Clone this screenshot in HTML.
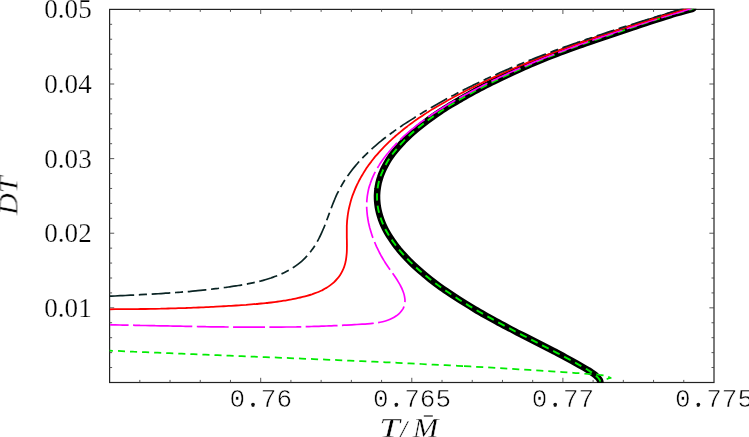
<!DOCTYPE html>
<html><head><meta charset="utf-8"><title>plot</title>
<style>
html,body{margin:0;padding:0;background:#fff;overflow:hidden}
svg{display:block}
.mono{font-family:"Liberation Mono",monospace;font-size:25.2px;fill:#000;stroke:#fff;stroke-width:0.55px;stroke-linejoin:round}
.ser{font-family:"Liberation Serif",serif;font-size:27px;fill:#000;stroke:#fff;stroke-width:0.25px}
.it{font-family:"Liberation Serif",serif;font-style:italic;font-size:27px;fill:#000;stroke:#fff;stroke-width:0.35px}
</style></head><body>
<svg width="749" height="437" viewBox="0 0 749 437">
<rect width="749" height="437" fill="#fff"/>
<defs><clipPath id="c"><rect x="109.0" y="8.8" width="605.0" height="374.2"/></clipPath></defs>
<g stroke="#222" fill="none">
<rect x="109.6" y="9.4" width="604.4" height="373.1" stroke-width="1.2"/>
<path d="M139.82 382.4v-2.5M139.82 9.4v2.5M170.04 382.4v-2.5M170.04 9.4v2.5M200.26 382.4v-2.5M200.26 9.4v2.5M230.48 382.4v-2.5M230.48 9.4v2.5M260.70 382.4v-4.6M260.70 9.4v4.6M290.92 382.4v-2.5M290.92 9.4v2.5M321.14 382.4v-2.5M321.14 9.4v2.5M351.36 382.4v-2.5M351.36 9.4v2.5M381.58 382.4v-2.5M381.58 9.4v2.5M411.80 382.4v-4.6M411.80 9.4v4.6M442.02 382.4v-2.5M442.02 9.4v2.5M472.24 382.4v-2.5M472.24 9.4v2.5M502.46 382.4v-2.5M502.46 9.4v2.5M532.68 382.4v-2.5M532.68 9.4v2.5M562.90 382.4v-4.6M562.90 9.4v4.6M593.12 382.4v-2.5M593.12 9.4v2.5M623.34 382.4v-2.5M623.34 9.4v2.5M653.56 382.4v-2.5M653.56 9.4v2.5M683.78 382.4v-2.5M683.78 9.4v2.5M109.6 367.53h2.5M714.0 367.53h-2.5M109.6 352.61h2.5M714.0 352.61h-2.5M109.6 337.68h2.5M714.0 337.68h-2.5M109.6 322.76h2.5M714.0 322.76h-2.5M109.6 307.84h4.6M714.0 307.84h-4.6M109.6 292.92h2.5M714.0 292.92h-2.5M109.6 278.00h2.5M714.0 278.00h-2.5M109.6 263.07h2.5M714.0 263.07h-2.5M109.6 248.15h2.5M714.0 248.15h-2.5M109.6 233.23h4.6M714.0 233.23h-4.6M109.6 218.31h2.5M714.0 218.31h-2.5M109.6 203.39h2.5M714.0 203.39h-2.5M109.6 188.46h2.5M714.0 188.46h-2.5M109.6 173.54h2.5M714.0 173.54h-2.5M109.6 158.62h4.6M714.0 158.62h-4.6M109.6 143.70h2.5M714.0 143.70h-2.5M109.6 128.78h2.5M714.0 128.78h-2.5M109.6 113.85h2.5M714.0 113.85h-2.5M109.6 98.93h2.5M714.0 98.93h-2.5M109.6 84.01h4.6M714.0 84.01h-4.6M109.6 69.09h2.5M714.0 69.09h-2.5M109.6 54.17h2.5M714.0 54.17h-2.5M109.6 39.24h2.5M714.0 39.24h-2.5M109.6 24.32h2.5M714.0 24.32h-2.5" stroke="#444" stroke-width="0.9"/>
</g>
<g clip-path="url(#c)" fill="none" stroke-linecap="butt" stroke-linejoin="round">
<path d="M692.4 8.9C692.2 9.0 694.7 8.2 691.0 9.3C687.2 10.4 676.7 13.3 670.0 15.3C663.2 17.3 656.9 19.3 650.7 21.3C644.5 23.3 638.7 25.3 632.7 27.3C626.8 29.3 621.0 31.3 615.0 33.3C609.1 35.3 603.0 37.3 597.1 39.3C591.2 41.3 585.2 43.3 579.6 45.3C573.9 47.3 568.4 49.3 563.1 51.3C557.8 53.3 552.8 55.3 547.8 57.3C542.9 59.3 538.1 61.3 533.4 63.3C528.7 65.3 524.2 67.3 519.7 69.3C515.2 71.3 510.8 73.3 506.6 75.3C502.3 77.3 498.1 79.3 494.1 81.3C490.0 83.3 486.1 85.3 482.2 87.3C478.3 89.3 474.6 91.3 470.9 93.3C467.3 95.3 463.7 97.3 460.3 99.3C456.8 101.3 453.5 103.3 450.2 105.3C447.0 107.3 443.8 109.3 440.8 111.3C437.8 113.3 434.9 115.3 432.1 117.3C429.2 119.3 426.5 121.3 423.9 123.3C421.3 125.3 418.8 127.3 416.5 129.3C414.1 131.3 411.8 133.3 409.6 135.3C407.5 137.3 405.4 139.3 403.5 141.3C401.5 143.3 399.7 145.3 398.0 147.3C396.3 149.3 394.6 151.3 393.1 153.3C391.6 155.3 390.2 157.3 388.9 159.3C387.6 161.3 386.5 163.3 385.4 165.3C384.3 167.3 383.3 169.3 382.5 171.3C381.6 173.3 380.8 175.3 380.2 177.3C379.5 179.3 379.0 181.3 378.5 183.3C378.1 185.3 377.7 187.3 377.5 189.3C377.2 191.3 377.1 193.3 377.0 195.3C377.0 197.3 377.0 199.3 377.2 201.3C377.3 203.3 377.6 205.3 377.9 207.3C378.2 209.3 378.7 211.3 379.2 213.3C379.7 215.3 380.4 217.3 381.1 219.3C381.8 221.3 382.6 223.3 383.5 225.3C384.4 227.3 385.4 229.3 386.5 231.3C387.6 233.3 388.8 235.3 390.1 237.3C391.4 239.3 392.7 241.3 394.2 243.3C395.6 245.3 397.2 247.3 398.8 249.3C400.5 251.3 402.2 253.3 404.0 255.3C405.8 257.3 407.7 259.3 409.8 261.3C411.8 263.3 413.8 265.3 416.0 267.3C418.2 269.3 420.5 271.3 422.9 273.3C425.2 275.3 427.7 277.3 430.2 279.3C432.8 281.3 435.4 283.3 438.1 285.3C440.9 287.3 443.7 289.3 446.6 291.3C449.5 293.3 452.5 295.3 455.6 297.3C458.6 299.3 461.8 301.3 465.1 303.3C468.3 305.3 471.6 307.3 475.0 309.3C478.4 311.3 481.9 313.3 485.4 315.3C489.0 317.3 492.6 319.3 496.3 321.3C499.9 323.3 503.7 325.3 507.5 327.3C511.2 329.3 515.1 331.3 518.9 333.3C522.8 335.3 526.7 337.3 530.6 339.3C534.5 341.3 538.4 343.3 542.3 345.3C546.2 347.3 550.1 349.3 554.0 351.3C557.8 353.3 561.7 355.3 565.4 357.3C569.2 359.3 572.9 361.3 576.4 363.3C580.0 365.3 584.8 368.2 586.8 369.3C588.7 370.4 587.1 369.5 587.9 370.0C588.7 370.5 590.5 371.6 591.7 372.4C592.9 373.2 594.2 374.1 595.2 375.0C596.2 375.9 597.2 376.7 598.0 377.6C598.8 378.5 599.4 379.3 599.8 380.2C600.2 381.1 600.4 382.0 600.5 383.0C600.6 384.0 600.7 385.5 600.7 386.0" stroke="#000" stroke-width="6.6" stroke-linecap="round"/>
<path d="M109.6 350.6C111.6 350.7 117.6 351.0 121.6 351.1C125.6 351.3 129.6 351.5 133.6 351.7C137.6 351.8 141.6 352.0 145.6 352.2C149.6 352.3 153.6 352.5 157.6 352.7C161.6 352.8 165.6 353.0 169.6 353.2C173.6 353.4 177.6 353.5 181.6 353.7C185.6 353.8 189.6 354.0 193.6 354.2C197.6 354.3 201.6 354.5 205.6 354.7C209.6 354.8 213.6 355.0 217.6 355.2C221.6 355.3 225.6 355.5 229.6 355.6C233.6 355.8 237.6 356.0 241.6 356.1C245.6 356.3 249.6 356.5 253.6 356.6C257.6 356.8 261.6 357.0 265.6 357.1C269.6 357.3 273.6 357.4 277.6 357.6C281.6 357.8 285.6 357.9 289.6 358.1C293.6 358.3 297.6 358.4 301.6 358.6C305.6 358.8 309.6 358.9 313.6 359.1C317.6 359.3 321.6 359.4 325.6 359.6C329.6 359.8 333.6 359.9 337.6 360.1C341.6 360.3 345.6 360.5 349.6 360.6C353.6 360.8 357.6 361.0 361.6 361.2C365.6 361.4 369.6 361.5 373.6 361.7C377.6 361.9 381.6 362.1 385.6 362.3C389.6 362.4 393.6 362.6 397.6 362.8C401.6 363.0 405.6 363.2 409.6 363.4C413.6 363.6 417.6 363.8 421.6 364.0C425.6 364.2 429.6 364.4 433.6 364.6C437.6 364.8 441.6 365.0 445.6 365.2C449.6 365.4 454.5 365.7 457.6 365.8C460.7 366.0 463.0 366.1 464.1 366.2" stroke="#00ec00" stroke-width="1.75" stroke-dasharray="7.1 4.977" stroke-dashoffset="3.73"/>
<path d="M600.6 382.2C600.9 381.9 601.6 381.1 602.5 380.6C603.4 380.1 604.8 379.6 606.2 379.2C607.6 378.8 610.0 378.2 610.8 378.0L610.8 378.0C610.4 377.8 609.2 377.2 608.3 376.8C607.4 376.4 606.5 376.2 605.5 375.9C604.5 375.6 603.4 375.4 602.0 375.2C600.6 375.0 598.1 374.6 597.0 374.5C595.9 374.3 597.5 374.5 595.5 374.4C593.4 374.2 588.1 373.8 584.5 373.6C580.8 373.3 577.1 373.1 573.5 372.8C569.8 372.6 566.1 372.3 562.5 372.1C558.8 371.8 555.1 371.6 551.5 371.3C547.8 371.1 544.1 370.9 540.5 370.6C536.8 370.4 533.1 370.2 529.5 369.9C525.8 369.7 522.1 369.5 518.5 369.3C514.8 369.0 511.1 368.8 507.4 368.6C503.8 368.4 500.1 368.2 496.4 368.0C492.8 367.7 489.1 367.5 485.4 367.3C481.8 367.1 478.1 366.9 474.4 366.7C470.8 366.5 465.3 366.2 463.4 366.1" stroke="#00ec00" stroke-width="1.75" stroke-linejoin="round" stroke-dasharray="0 7.0 7.1 4.95 7.1 4.95 7.1 4.95 7.1 4.95 7.1 4.95 7.1 4.95 7.1 4.95 7.1 4.95 7.1 4.95 7.1 4.95 7.1 4.95 7.1 4.95 7.1 4.95 7.1 4.95"/>
<path d="M600.5 383.0C600.4 382.5 600.2 381.1 599.8 380.2C599.4 379.3 598.8 378.5 598.0 377.6C597.2 376.7 596.2 375.9 595.2 375.0C594.2 374.1 592.9 373.2 591.7 372.4C590.5 371.6 588.7 370.5 587.9 370.0C587.1 369.5 588.7 370.4 586.8 369.3C584.8 368.2 580.0 365.3 576.4 363.3C572.9 361.3 569.2 359.3 565.4 357.3C561.7 355.3 557.8 353.3 554.0 351.3C550.1 349.3 546.2 347.3 542.3 345.3C538.4 343.3 534.5 341.3 530.6 339.3C526.7 337.3 522.8 335.3 518.9 333.3C515.1 331.3 511.2 329.3 507.5 327.3C503.7 325.3 499.9 323.3 496.3 321.3C492.6 319.3 489.0 317.3 485.4 315.3C481.9 313.3 478.4 311.3 475.0 309.3C471.6 307.3 468.3 305.3 465.1 303.3C461.8 301.3 458.6 299.3 455.6 297.3C452.5 295.3 449.5 293.3 446.6 291.3C443.7 289.3 440.9 287.3 438.1 285.3C435.4 283.3 432.8 281.3 430.2 279.3C427.7 277.3 425.2 275.3 422.9 273.3C420.5 271.3 418.2 269.3 416.0 267.3C413.8 265.3 411.8 263.3 409.8 261.3C407.7 259.3 405.8 257.3 404.0 255.3C402.2 253.3 400.5 251.3 398.8 249.3C397.2 247.3 395.6 245.3 394.2 243.3C392.7 241.3 391.4 239.3 390.1 237.3C388.8 235.3 387.6 233.3 386.5 231.3C385.4 229.3 384.4 227.3 383.5 225.3C382.6 223.3 381.8 221.3 381.1 219.3C380.4 217.3 379.7 215.3 379.2 213.3C378.7 211.3 378.2 209.3 377.9 207.3C377.6 205.3 377.3 203.3 377.2 201.3C377.0 199.3 377.0 197.3 377.0 195.3C377.1 193.3 377.2 191.3 377.5 189.3C377.7 187.3 378.1 185.3 378.5 183.3C379.0 181.3 379.5 179.3 380.2 177.3C380.8 175.3 381.6 173.3 382.5 171.3C383.3 169.3 384.3 167.3 385.4 165.3C386.5 163.3 387.6 161.3 388.9 159.3C390.2 157.3 391.6 155.3 393.1 153.3C394.6 151.3 396.3 149.3 398.0 147.3C399.7 145.3 401.5 143.3 403.5 141.3C405.4 139.3 407.5 137.3 409.6 135.3C411.8 133.3 414.1 131.3 416.5 129.3C418.8 127.3 421.3 125.3 423.9 123.3C426.5 121.3 429.2 119.3 432.1 117.3C434.9 115.3 437.8 113.3 440.8 111.3C443.8 109.3 447.0 107.3 450.2 105.3C453.5 103.3 456.8 101.3 460.3 99.3C463.7 97.3 467.3 95.3 470.9 93.3C474.6 91.3 478.3 89.3 482.2 87.3C486.1 85.3 490.0 83.3 494.1 81.3C498.1 79.3 502.3 77.3 506.6 75.3C510.8 73.3 515.2 71.3 519.7 69.3C524.2 67.3 528.7 65.3 533.4 63.3C538.1 61.3 542.9 59.3 547.8 57.3C552.8 55.3 557.8 53.3 563.1 51.3C568.4 49.3 573.9 47.3 579.6 45.3C585.2 43.3 591.2 41.3 597.1 39.3C603.0 37.3 609.1 35.3 615.0 33.3C621.0 31.3 626.8 29.3 632.7 27.3C638.7 25.3 644.5 23.3 650.7 21.3C656.9 19.3 663.2 17.3 670.0 15.3C676.7 13.3 687.2 10.4 691.0 9.3C694.7 8.2 692.2 9.0 692.4 8.9" stroke="#00ec00" stroke-width="1.9" stroke-dasharray="7.35 5.024" stroke-dashoffset="10.8"/>
<path d="M110.1 324.9C110.9 324.9 113.4 324.9 115.1 324.9C116.7 325.0 118.4 325.0 120.1 325.0C121.7 325.0 123.4 325.1 125.1 325.1C126.8 325.1 128.4 325.2 130.1 325.2C131.8 325.2 133.4 325.2 135.1 325.3C136.8 325.3 138.5 325.3 140.1 325.4C141.8 325.4 143.5 325.4 145.2 325.5C146.8 325.5 148.5 325.5 150.2 325.6C151.9 325.6 153.6 325.6 155.2 325.7C156.9 325.7 158.6 325.7 160.3 325.8C162.0 325.8 163.7 325.8 165.3 325.9C167.0 325.9 168.7 326.0 170.4 326.0C172.1 326.0 173.8 326.1 175.4 326.1C177.1 326.1 178.8 326.2 180.5 326.2C182.2 326.2 183.9 326.3 185.6 326.3C187.2 326.3 188.9 326.4 190.6 326.4C192.3 326.4 194.0 326.5 195.7 326.5C197.4 326.5 199.1 326.6 200.7 326.6C202.4 326.6 204.1 326.6 205.8 326.7C207.5 326.7 209.2 326.7 210.9 326.8C212.6 326.8 214.2 326.8 215.9 326.8C217.6 326.9 219.3 326.9 221.0 326.9C222.7 326.9 224.4 327.0 226.0 327.0C227.7 327.0 229.4 327.0 231.1 327.0C232.8 327.1 234.5 327.1 236.2 327.1C237.8 327.1 239.5 327.1 241.2 327.1C242.9 327.1 244.6 327.2 246.3 327.2C247.9 327.2 249.6 327.2 251.3 327.2C253.0 327.2 254.7 327.2 256.4 327.2C258.0 327.2 259.7 327.2 261.4 327.2C263.1 327.2 264.8 327.2 266.4 327.2C268.1 327.2 269.8 327.2 271.5 327.2C273.1 327.2 274.8 327.2 276.5 327.1C278.2 327.1 279.8 327.1 281.5 327.1C283.2 327.1 284.8 327.1 286.5 327.0C288.2 327.0 289.9 327.0 291.5 327.0C293.2 326.9 294.9 326.9 296.5 326.9C298.2 326.8 299.8 326.8 301.5 326.8C303.2 326.7 304.8 326.7 306.5 326.7C308.2 326.6 309.8 326.6 311.5 326.5C313.1 326.5 314.8 326.4 316.5 326.4C318.1 326.3 319.8 326.3 321.4 326.2C323.1 326.1 324.8 326.1 326.4 326.0C328.1 325.9 329.8 325.9 331.5 325.8C333.1 325.7 334.8 325.7 336.5 325.6C338.2 325.5 339.9 325.4 341.5 325.3C343.2 325.2 344.9 325.2 346.6 325.1C348.3 325.0 350.0 324.9 351.7 324.8C353.4 324.7 355.2 324.6 356.9 324.5C358.6 324.4 360.3 324.3 362.1 324.2C363.8 324.1 365.5 324.0 367.3 323.8C369.0 323.7 370.8 323.6 372.5 323.4C374.2 323.2 376.0 323.0 377.7 322.7C379.4 322.5 381.1 322.1 382.7 321.7C384.4 321.3 386.0 320.9 387.6 320.3C389.2 319.7 390.7 319.1 392.2 318.3C393.7 317.6 395.1 316.7 396.4 315.8C397.7 314.8 399.0 313.8 400.0 312.7C401.1 311.5 402.0 310.3 402.8 309.1C403.5 307.8 404.1 306.4 404.5 305.0C404.8 303.5 405.0 302.0 405.0 300.5C405.0 299.0 404.7 297.4 404.4 295.8C404.1 294.3 403.6 292.7 403.0 291.2C402.4 289.6 401.7 288.0 400.9 286.5C400.1 284.9 399.2 283.4 398.3 281.9C397.4 280.3 396.4 278.8 395.4 277.3C394.4 275.8 393.3 274.3 392.3 272.9C391.2 271.4 390.2 269.9 389.2 268.5C388.2 267.1 387.2 265.7 386.3 264.3C385.4 262.9 384.6 261.5 383.7 260.1C382.9 258.8 382.1 257.4 381.3 256.0C380.5 254.5 379.7 253.1 379.0 251.6C378.2 250.2 377.5 248.7 376.8 247.2C376.1 245.6 375.4 244.1 374.8 242.5C374.1 241.0 373.5 239.4 372.9 237.8C372.3 236.2 371.8 234.6 371.3 232.9C370.8 231.3 370.3 229.7 369.8 228.0C369.4 226.4 369.0 224.7 368.6 223.0C368.3 221.4 368.0 219.7 367.7 218.0C367.5 216.4 367.2 214.7 367.1 213.0C366.9 211.3 366.8 209.6 366.7 208.0C366.7 206.3 366.7 204.6 366.7 203.0C366.8 201.3 366.9 199.7 367.1 198.0C367.2 196.4 367.5 194.7 367.8 193.1C368.1 191.5 368.4 189.9 368.8 188.3C369.2 186.7 369.7 185.1 370.3 183.6C370.8 182.0 371.4 180.5 372.0 178.9C372.6 177.4 373.3 175.9 374.0 174.4C374.8 172.9 375.5 171.4 376.3 169.9C377.2 168.4 378.0 167.0 378.9 165.6C379.8 164.1 380.7 162.7 381.7 161.3C382.6 159.9 383.6 158.5 384.6 157.2C385.7 155.8 386.7 154.5 387.8 153.2C388.9 151.8 390.0 150.5 391.1 149.3C392.2 148.0 393.3 146.7 394.5 145.5C395.6 144.3 396.8 143.0 398.0 141.8C399.2 140.6 400.4 139.5 401.6 138.3C402.8 137.1 404.0 136.0 405.3 134.9C406.5 133.8 407.8 132.7 409.1 131.6C410.4 130.5 411.7 129.4 413.0 128.4C414.3 127.3 415.6 126.3 416.9 125.2C418.2 124.2 419.6 123.2 420.9 122.2C422.3 121.2 423.6 120.2 425.0 119.3C426.4 118.3 427.8 117.3 429.2 116.4C430.6 115.5 431.9 114.5 433.4 113.6C434.8 112.7 436.2 111.8 437.6 110.9C439.0 110.0 440.4 109.1 441.9 108.2C443.3 107.3 444.8 106.5 446.2 105.6C447.6 104.7 449.1 103.9 450.5 103.0C452.0 102.2 453.5 101.3 454.9 100.5C456.4 99.7 457.8 98.8 459.3 98.0C460.8 97.2 462.2 96.4 463.7 95.6C465.2 94.8 466.7 94.0 468.1 93.2C469.6 92.4 471.1 91.6 472.6 90.8C474.1 90.0 475.6 89.2 477.1 88.5C478.6 87.7 480.0 86.9 481.5 86.2C483.0 85.4 484.5 84.7 486.0 83.9C487.5 83.2 489.1 82.4 490.6 81.7C492.1 80.9 493.6 80.2 495.1 79.5C496.6 78.8 498.1 78.0 499.6 77.3C501.2 76.6 502.7 75.9 504.2 75.2C505.7 74.5 507.3 73.8 508.8 73.1C510.3 72.4 511.8 71.7 513.4 71.0C514.9 70.4 516.4 69.7 518.0 69.0C519.5 68.3 521.1 67.7 522.6 67.0C524.1 66.3 525.7 65.7 527.2 65.0C528.8 64.4 530.3 63.7 531.9 63.1C533.4 62.4 535.0 61.8 536.5 61.1C538.1 60.5 539.6 59.9 541.2 59.2C542.8 58.6 544.3 58.0 545.9 57.4C547.4 56.7 549.0 56.1 550.6 55.5C552.1 54.9 553.7 54.3 555.3 53.7C556.8 53.1 558.4 52.5 560.0 51.9C561.6 51.3 563.1 50.7 564.7 50.1C566.3 49.5 567.9 48.9 569.4 48.3C571.0 47.8 572.6 47.2 574.2 46.6C575.7 46.0 577.3 45.5 578.9 44.9C580.5 44.3 582.1 43.8 583.7 43.2C585.3 42.6 586.8 42.1 588.4 41.5C590.0 41.0 591.6 40.4 593.2 39.9C594.8 39.3 596.4 38.8 598.0 38.2C599.6 37.7 601.1 37.1 602.7 36.6C604.3 36.0 605.9 35.5 607.5 35.0C609.1 34.4 610.7 33.9 612.3 33.4C613.9 32.8 615.5 32.3 617.1 31.8C618.7 31.3 620.3 30.7 621.9 30.2C623.5 29.7 625.1 29.2 626.7 28.6C628.3 28.1 629.9 27.6 631.5 27.1C633.1 26.6 634.7 26.1 636.3 25.6C637.9 25.0 639.5 24.5 641.1 24.0C642.7 23.5 644.3 23.0 645.9 22.5C647.5 22.0 649.1 21.5 650.7 21.0C652.3 20.5 653.9 20.0 655.5 19.5C657.1 19.0 658.8 18.5 660.4 18.0C662.0 17.5 663.6 17.0 665.2 16.5C666.8 16.0 668.4 15.5 670.0 15.0C671.6 14.5 673.2 14.1 674.8 13.6C676.4 13.1 678.0 12.6 679.6 12.1C681.2 11.6 682.8 11.1 684.4 10.6C686.0 10.1 687.6 9.6 689.2 9.1C690.8 8.7 692.4 8.2 694.0 7.7C695.6 7.2 698.0 6.5 698.8 6.2" stroke="#ff00ff" stroke-width="1.7" stroke-dasharray="18.5 4.5 59.2 4.5 31.9 4.4 31.9 4.4 31.9 4.4 31.9 4.4 31.9 4.4 31.9 4.4 31.9 4.4 31.9 4.4 31.9 4.4 31.9 4.4 31.9 4.4 31.9 4.4 31.9 4.4 31.9 4.4 31.9 4.4 31.9 4.4 31.9 4.4 31.9 4.4 31.9 4.4 31.9 4.4 31.9 4.4 31.9 4.4 31.9 4.4 31.9 4.4 31.9 4.4 31.9 4.4 31.9 4.4 31.9 4.4 31.9 4.4 31.9 4.4 31.9 4.4 31.9 4.4 31.9 4.4 31.9 4.4 31.9 4.4 31.9 4.4 31.9 4.4 31.9 4.4 31.9 4.4 31.9 4.4"/>
<path d="M110.0 309.3C110.8 309.3 113.3 309.3 115.0 309.2C116.7 309.2 118.4 309.2 120.1 309.2C121.8 309.2 123.5 309.2 125.2 309.2C126.9 309.2 128.5 309.2 130.2 309.1C131.9 309.1 133.6 309.1 135.3 309.1C137.0 309.1 138.7 309.0 140.4 309.0C142.0 309.0 143.7 309.0 145.4 309.0C147.1 308.9 148.8 308.9 150.5 308.9C152.2 308.8 153.9 308.8 155.5 308.8C157.2 308.7 158.9 308.7 160.6 308.7C162.3 308.6 164.0 308.6 165.6 308.6C167.3 308.5 169.0 308.5 170.7 308.4C172.4 308.4 174.1 308.3 175.7 308.3C177.4 308.2 179.1 308.2 180.8 308.1C182.5 308.1 184.2 308.0 185.8 308.0C187.5 307.9 189.2 307.9 190.9 307.8C192.6 307.7 194.2 307.7 195.9 307.6C197.6 307.5 199.3 307.5 201.0 307.4C202.6 307.3 204.3 307.3 206.0 307.2C207.7 307.1 209.3 307.0 211.0 306.9C212.7 306.9 214.4 306.8 216.0 306.7C217.7 306.6 219.4 306.5 221.1 306.4C222.8 306.3 224.4 306.2 226.1 306.1C227.8 306.0 229.4 305.9 231.1 305.8C232.8 305.7 234.5 305.6 236.1 305.5C237.8 305.4 239.5 305.3 241.2 305.1C242.8 305.0 244.5 304.9 246.2 304.8C247.8 304.6 249.5 304.5 251.2 304.4C252.8 304.3 254.5 304.1 256.2 304.0C257.8 303.8 259.5 303.7 261.2 303.5C262.9 303.4 264.5 303.2 266.2 303.0C267.9 302.8 269.5 302.7 271.2 302.5C272.9 302.3 274.6 302.1 276.3 301.8C277.9 301.6 279.6 301.4 281.3 301.1C283.0 300.8 284.7 300.6 286.4 300.3C288.1 300.0 289.8 299.7 291.5 299.4C293.2 299.0 294.9 298.7 296.6 298.3C298.3 297.9 300.0 297.6 301.7 297.1C303.4 296.7 305.2 296.3 306.9 295.8C308.6 295.3 310.3 294.8 311.9 294.3C313.6 293.7 315.2 293.1 316.9 292.5C318.5 291.9 320.0 291.2 321.6 290.5C323.1 289.7 324.6 289.0 326.0 288.1C327.5 287.3 328.8 286.4 330.1 285.4C331.4 284.4 332.7 283.4 333.9 282.3C335.0 281.3 336.1 280.1 337.1 278.9C338.2 277.7 339.1 276.5 340.0 275.2C340.9 273.9 341.6 272.5 342.3 271.1C343.0 269.7 343.7 268.2 344.2 266.7C344.7 265.3 345.2 263.7 345.5 262.1C345.9 260.6 346.1 259.0 346.3 257.3C346.5 255.7 346.7 254.0 346.8 252.3C346.9 250.6 346.9 248.9 346.9 247.2C347.0 245.4 346.9 243.7 346.9 241.9C346.9 240.2 346.8 238.4 346.8 236.6C346.8 234.8 346.8 233.1 346.8 231.3C346.8 229.5 346.8 227.8 346.8 226.0C346.9 224.3 347.0 222.6 347.1 220.9C347.3 219.1 347.5 217.4 347.7 215.7C347.9 214.1 348.2 212.4 348.5 210.7C348.8 209.1 349.2 207.4 349.6 205.8C350.0 204.2 350.4 202.6 350.8 201.0C351.3 199.4 351.8 197.8 352.3 196.2C352.9 194.7 353.5 193.1 354.1 191.6C354.7 190.1 355.3 188.5 356.0 187.0C356.7 185.5 357.4 184.0 358.1 182.6C358.8 181.1 359.6 179.6 360.4 178.2C361.2 176.7 362.0 175.3 362.9 173.9C363.7 172.5 364.6 171.1 365.5 169.7C366.4 168.3 367.4 166.9 368.3 165.6C369.3 164.2 370.3 162.9 371.3 161.6C372.3 160.2 373.4 158.9 374.4 157.6C375.5 156.3 376.6 155.1 377.7 153.8C378.8 152.5 379.9 151.3 381.0 150.1C382.2 148.8 383.3 147.6 384.5 146.4C385.7 145.2 386.9 144.0 388.1 142.8C389.3 141.7 390.5 140.5 391.8 139.4C393.0 138.2 394.3 137.1 395.5 136.0C396.8 134.9 398.1 133.8 399.4 132.7C400.7 131.6 402.0 130.6 403.3 129.5C404.6 128.4 405.9 127.4 407.3 126.4C408.6 125.4 410.0 124.4 411.3 123.4C412.7 122.4 414.1 121.4 415.4 120.4C416.8 119.4 418.2 118.5 419.6 117.5C421.0 116.6 422.4 115.7 423.8 114.7C425.2 113.8 426.6 112.9 428.1 112.0C429.5 111.1 430.9 110.2 432.4 109.3C433.8 108.5 435.3 107.6 436.7 106.7C438.2 105.9 439.6 105.0 441.1 104.2C442.6 103.3 444.0 102.5 445.5 101.7C447.0 100.8 448.5 100.0 449.9 99.2C451.4 98.4 452.9 97.6 454.4 96.8C455.9 96.0 457.4 95.2 458.9 94.4C460.4 93.6 461.9 92.9 463.4 92.1C464.9 91.3 466.4 90.5 467.9 89.8C469.4 89.0 470.9 88.3 472.4 87.5C473.9 86.8 475.4 86.0 476.9 85.3C478.4 84.5 480.0 83.8 481.5 83.1C483.0 82.3 484.5 81.6 486.0 80.9C487.6 80.2 489.1 79.5 490.6 78.8C492.1 78.0 493.7 77.3 495.2 76.6C496.7 75.9 498.3 75.2 499.8 74.6C501.3 73.9 502.9 73.2 504.4 72.5C505.9 71.8 507.5 71.1 509.0 70.5C510.6 69.8 512.1 69.1 513.7 68.5C515.2 67.8 516.8 67.1 518.3 66.5C519.9 65.8 521.4 65.2 523.0 64.5C524.5 63.9 526.1 63.3 527.6 62.6C529.2 62.0 530.7 61.3 532.3 60.7C533.9 60.1 535.4 59.5 537.0 58.8C538.6 58.2 540.1 57.6 541.7 57.0C543.2 56.4 544.8 55.8 546.4 55.2C548.0 54.6 549.5 54.0 551.1 53.4C552.7 52.8 554.2 52.2 555.8 51.6C557.4 51.0 559.0 50.4 560.5 49.8C562.1 49.2 563.7 48.6 565.3 48.1C566.9 47.5 568.4 46.9 570.0 46.3C571.6 45.8 573.2 45.2 574.8 44.6C576.4 44.1 578.0 43.5 579.5 42.9C581.1 42.4 582.7 41.8 584.3 41.3C585.9 40.7 587.5 40.1 589.1 39.6C590.7 39.1 592.3 38.5 593.9 38.0C595.5 37.4 597.0 36.9 598.6 36.3C600.2 35.8 601.8 35.3 603.4 34.7C605.0 34.2 606.6 33.7 608.2 33.1C609.8 32.6 611.4 32.1 613.0 31.5C614.6 31.0 616.2 30.5 617.8 30.0C619.4 29.5 621.0 28.9 622.6 28.4C624.2 27.9 625.8 27.4 627.4 26.9C629.1 26.4 630.7 25.8 632.3 25.3C633.9 24.8 635.5 24.3 637.1 23.8C638.7 23.3 640.3 22.8 641.9 22.3C643.5 21.8 645.1 21.3 646.7 20.8C648.3 20.3 649.9 19.8 651.6 19.3C653.2 18.8 654.8 18.3 656.4 17.8C658.0 17.3 659.6 16.8 661.2 16.3C662.8 15.8 664.4 15.3 666.1 14.8C667.7 14.3 669.3 13.8 670.9 13.3C672.5 12.9 674.1 12.4 675.7 11.9C677.3 11.4 678.9 10.9 680.6 10.4C682.2 9.9 683.8 9.4 685.4 9.0C687.0 8.5 688.6 8.0 690.2 7.5C691.8 7.0 693.5 6.5 695.1 6.0C696.7 5.5 699.1 4.8 699.9 4.6" stroke="#ff0000" stroke-width="1.8"/>
<path d="M109.9 296.2C110.8 296.2 113.3 296.0 115.1 296.0C116.8 295.9 118.5 295.8 120.2 295.7C121.9 295.6 123.6 295.6 125.3 295.5C127.0 295.4 128.7 295.3 130.4 295.2C132.1 295.1 133.8 295.1 135.5 295.0C137.1 294.9 138.8 294.8 140.5 294.7C142.2 294.6 143.9 294.5 145.6 294.4C147.3 294.4 148.9 294.3 150.6 294.2C152.3 294.1 154.0 294.0 155.6 293.9C157.3 293.8 159.0 293.7 160.7 293.6C162.3 293.5 164.0 293.4 165.7 293.2C167.4 293.1 169.0 293.0 170.7 292.9C172.4 292.8 174.0 292.7 175.7 292.5C177.4 292.4 179.0 292.3 180.7 292.2C182.4 292.0 184.0 291.9 185.7 291.7C187.4 291.6 189.0 291.5 190.7 291.3C192.4 291.2 194.0 291.0 195.7 290.8C197.4 290.7 199.0 290.5 200.7 290.3C202.4 290.2 204.1 290.0 205.7 289.8C207.4 289.6 209.1 289.5 210.7 289.3C212.4 289.1 214.1 288.9 215.8 288.7C217.4 288.5 219.1 288.3 220.8 288.0C222.5 287.8 224.2 287.6 225.9 287.4C227.5 287.1 229.2 286.9 230.9 286.6C232.6 286.4 234.3 286.2 236.0 285.9C237.7 285.6 239.4 285.4 241.1 285.1C242.7 284.8 244.4 284.5 246.1 284.2C247.8 283.9 249.5 283.5 251.2 283.2C252.8 282.9 254.5 282.5 256.2 282.1C257.8 281.7 259.5 281.3 261.2 280.9C262.8 280.4 264.4 280.0 266.1 279.5C267.7 279.0 269.3 278.5 270.9 278.0C272.5 277.4 274.1 276.9 275.7 276.3C277.3 275.7 278.8 275.0 280.4 274.4C281.9 273.7 283.5 273.0 285.0 272.2C286.5 271.5 288.0 270.7 289.4 269.9C290.9 269.0 292.3 268.2 293.7 267.3C295.1 266.4 296.5 265.4 297.8 264.4C299.1 263.4 300.4 262.4 301.6 261.3C302.9 260.2 304.1 259.0 305.2 257.9C306.4 256.7 307.5 255.4 308.5 254.2C309.6 252.9 310.6 251.6 311.6 250.3C312.6 249.0 313.6 247.6 314.5 246.2C315.4 244.8 316.2 243.4 317.1 241.9C317.9 240.5 318.7 239.0 319.4 237.5C320.2 236.0 320.9 234.5 321.6 232.9C322.3 231.4 323.0 229.8 323.6 228.3C324.3 226.7 324.9 225.1 325.5 223.5C326.1 221.9 326.7 220.3 327.3 218.7C327.9 217.1 328.5 215.5 329.1 213.9C329.7 212.3 330.3 210.7 330.9 209.1C331.5 207.5 332.1 205.9 332.7 204.3C333.3 202.7 333.9 201.1 334.6 199.6C335.3 198.0 335.9 196.5 336.6 194.9C337.4 193.4 338.1 191.9 338.9 190.4C339.6 188.9 340.4 187.4 341.3 186.0C342.1 184.5 342.9 183.1 343.8 181.7C344.7 180.3 345.6 178.9 346.6 177.5C347.5 176.1 348.4 174.8 349.4 173.4C350.4 172.1 351.4 170.8 352.4 169.5C353.5 168.1 354.5 166.9 355.6 165.6C356.7 164.3 357.8 163.1 358.9 161.8C360.0 160.6 361.1 159.3 362.3 158.1C363.5 156.9 364.6 155.7 365.8 154.6C367.0 153.4 368.2 152.2 369.4 151.1C370.7 149.9 371.9 148.8 373.2 147.7C374.4 146.6 375.7 145.5 377.0 144.4C378.3 143.3 379.6 142.2 380.9 141.2C382.2 140.1 383.5 139.0 384.8 138.0C386.2 137.0 387.5 136.0 388.9 135.0C390.2 133.9 391.6 133.0 393.0 132.0C394.3 131.0 395.7 130.0 397.1 129.0C398.5 128.1 399.9 127.1 401.3 126.2C402.7 125.2 404.1 124.3 405.5 123.4C406.9 122.5 408.4 121.5 409.8 120.6C411.2 119.7 412.6 118.8 414.1 117.9C415.5 117.0 416.9 116.1 418.4 115.2C419.8 114.4 421.3 113.5 422.7 112.6C424.2 111.7 425.6 110.9 427.1 110.0C428.5 109.1 430.0 108.3 431.4 107.4C432.9 106.6 434.3 105.7 435.8 104.9C437.3 104.1 438.7 103.2 440.2 102.4C441.7 101.6 443.2 100.8 444.6 100.0C446.1 99.1 447.6 98.3 449.1 97.5C450.6 96.7 452.1 95.9 453.6 95.2C455.0 94.4 456.5 93.6 458.0 92.8C459.5 92.0 461.0 91.3 462.5 90.5C464.0 89.7 465.5 89.0 467.0 88.2C468.5 87.4 470.1 86.7 471.6 86.0C473.1 85.2 474.6 84.5 476.1 83.7C477.6 83.0 479.1 82.3 480.7 81.6C482.2 80.8 483.7 80.1 485.2 79.4C486.8 78.7 488.3 78.0 489.8 77.3C491.4 76.6 492.9 75.9 494.4 75.2C496.0 74.5 497.5 73.8 499.1 73.1C500.6 72.4 502.1 71.8 503.7 71.1C505.2 70.4 506.8 69.7 508.3 69.1C509.9 68.4 511.4 67.8 513.0 67.1C514.5 66.5 516.1 65.8 517.6 65.2C519.2 64.5 520.8 63.9 522.3 63.2C523.9 62.6 525.4 62.0 527.0 61.3C528.6 60.7 530.1 60.1 531.7 59.5C533.3 58.8 534.8 58.2 536.4 57.6C538.0 57.0 539.6 56.4 541.1 55.8C542.7 55.2 544.3 54.6 545.9 54.0C547.4 53.4 549.0 52.8 550.6 52.2C552.2 51.6 553.8 51.0 555.3 50.4C556.9 49.8 558.5 49.2 560.1 48.7C561.7 48.1 563.3 47.5 564.9 46.9C566.4 46.4 568.0 45.8 569.6 45.2C571.2 44.7 572.8 44.1 574.4 43.5C576.0 43.0 577.6 42.4 579.2 41.9C580.8 41.3 582.4 40.8 584.0 40.2C585.6 39.7 587.2 39.1 588.8 38.6C590.4 38.0 592.0 37.5 593.6 36.9C595.2 36.4 596.8 35.9 598.4 35.3C600.0 34.8 601.6 34.3 603.2 33.7C604.8 33.2 606.4 32.7 608.0 32.1C609.6 31.6 611.2 31.1 612.8 30.6C614.4 30.0 616.0 29.5 617.6 29.0C619.2 28.5 620.8 28.0 622.4 27.4C624.0 26.9 625.7 26.4 627.3 25.9C628.9 25.4 630.5 24.9 632.1 24.4C633.7 23.8 635.3 23.3 636.9 22.8C638.5 22.3 640.1 21.8 641.7 21.3C643.3 20.8 645.0 20.3 646.6 19.8C648.2 19.3 649.8 18.8 651.4 18.3C653.0 17.8 654.6 17.3 656.2 16.8C657.8 16.3 659.4 15.8 661.1 15.3C662.7 14.8 664.3 14.3 665.9 13.8C667.5 13.3 669.1 12.8 670.7 12.3C672.3 11.8 673.9 11.3 675.5 10.8C677.1 10.3 678.7 9.8 680.4 9.3C682.0 8.8 683.6 8.3 685.2 7.8C686.8 7.3 688.4 6.8 690.0 6.3C691.6 5.8 694.0 5.1 694.8 4.8" stroke="#0a2424" stroke-width="1.7" stroke-dasharray="24.3 4.7 8.1 4.7 18.7 4.7 8.1 4.7 18.7 4.7 8.1 4.7 18.7 4.7 8.1 4.7 18.7 4.7 8.1 4.7 18.7 4.7 8.1 4.7 18.7 4.7 8.1 4.7 18.7 4.7 8.1 4.7 18.7 4.7 8.1 4.7 18.7 4.7 8.1 4.7 18.7 4.7 8.1 4.7 18.7 4.7 8.1 4.7 18.7 4.7 8.1 4.7 18.7 4.7 8.1 4.7 18.7 4.7 8.1 4.7 18.7 4.7 8.1 4.7 18.7 4.7 8.1 4.7 18.7 4.7 8.1 4.7 18.7 4.7 8.1 4.7 18.7 4.7 8.1 4.7 18.7 4.7 8.1 4.7 18.7 4.7 8.1 4.7 18.7 4.7 8.1 4.7 18.7 4.7 8.1 4.7 18.7 4.7 8.1 4.7 18.7 4.7 8.1 4.7 18.7 4.7 8.1 4.7 18.7 4.7 8.1 4.7 18.7 4.7 8.1 4.7 18.7 4.7 8.1 4.7 18.7 4.7 8.1 4.7"/>
</g>
<g opacity="0.999">
<text class="mono" x="229.6" y="406.5" textLength="62.4" lengthAdjust="spacingAndGlyphs">0.76</text>
<circle cx="253.0" cy="404.5" r="1.8" fill="#111"/>
<text class="mono" x="373.0" y="406.5" textLength="78.0" lengthAdjust="spacingAndGlyphs">0.765</text>
<circle cx="396.4" cy="404.5" r="1.8" fill="#111"/>
<text class="mono" x="531.8" y="406.5" textLength="62.4" lengthAdjust="spacingAndGlyphs">0.77</text>
<circle cx="555.2" cy="404.5" r="1.8" fill="#111"/>
<text class="mono" x="675.0" y="406.5" textLength="78.0" lengthAdjust="spacingAndGlyphs">0.775</text>
<circle cx="698.4" cy="404.5" r="1.8" fill="#111"/>
<text class="ser" x="44.3" y="316.7" textLength="47.4" lengthAdjust="spacingAndGlyphs">0.01</text>
<text class="ser" x="44.3" y="242.1" textLength="47.4" lengthAdjust="spacingAndGlyphs">0.02</text>
<text class="ser" x="44.3" y="167.5" textLength="47.4" lengthAdjust="spacingAndGlyphs">0.03</text>
<text class="ser" x="44.3" y="92.9" textLength="47.4" lengthAdjust="spacingAndGlyphs">0.04</text>
<text class="ser" x="44.3" y="18.3" textLength="47.4" lengthAdjust="spacingAndGlyphs">0.05</text>
<text class="it" transform="translate(17.4,215) rotate(-90)" textLength="38.5" lengthAdjust="spacingAndGlyphs">DT</text>
<text class="it" x="379.2" y="436.6" textLength="20.5" lengthAdjust="spacingAndGlyphs">T</text>
<text class="it" x="399.6" y="438.5">/</text>
<text class="it" x="413.0" y="436.6" textLength="25.3" lengthAdjust="spacingAndGlyphs">M</text>
<path d="M423.8 416H432.8" stroke="#000" stroke-width="1.1"/>
</g>
</svg>
</body></html>
